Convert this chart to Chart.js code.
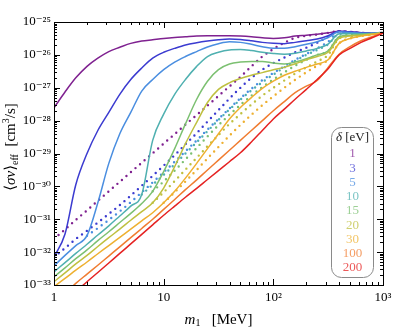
<html>
<head>
<meta charset="utf-8">
<script src="https://cdn.jsdelivr.net/npm/chart.js@4/dist/chart.umd.min.js"></script>
<style>
  body { margin: 0; background: #fff; }
</style>
</head>
<body>
<canvas id="sigmaChart" width="407" height="330"></canvas>

<script type="text/javascript">
    // m1 grid [MeV], 10 points per decade
    const masses = [1, 1.26, 1.58, 2, 2.51, 3.16, 3.98, 5.01, 6.31, 7.94,
                    10, 12.6, 15.8, 20, 25.1, 31.6, 39.8, 50.1, 63.1, 79.4,
                    100, 126, 158, 200, 251, 316, 398, 501, 631, 794, 1000];

    // <sigma v>_eff [cm^3/s], solid curves
    const solid1 = [2.45e-28, 7.41e-28, 2.0e-27, 4.47e-27, 7.94e-27, 1.26e-26, 1.70e-26, 2.24e-26, 2.63e-26, 2.88e-26,
                    3.16e-26, 3.39e-26, 3.55e-26, 3.72e-26, 3.8e-26, 3.8e-26, 3.8e-26, 3.72e-26, 3.55e-26, 3.31e-26,
                    3.16e-26, 3.31e-26, 3.72e-26, 3.98e-26, 4.27e-26, 4.68e-26, 5.25e-26, 5.01e-26, 4.68e-26, 4.57e-26, 4.68e-26];
    const solid3 = [7.08e-33, 3.55e-32, 1.12e-30, 1.0e-29, 5.01e-29, 1.78e-28, 6.31e-28, 1.78e-27, 3.98e-27, 7.94e-27,
                    1.2e-26, 1.58e-26, 2.0e-26, 2.34e-26, 2.63e-26, 2.88e-26, 3.02e-26, 2.95e-26, 2.69e-26, 2.4e-26,
                    2.24e-26, 2.19e-26, 2.4e-26, 2.69e-26, 3.02e-26, 3.8e-26, 5.25e-26, 5.01e-26, 4.68e-26, 4.57e-26, 4.68e-26];
    const solid5 = [3.8e-33, 7.94e-33, 1.58e-32, 3.16e-32, 3.16e-31, 5.01e-30, 3.98e-29, 1.78e-28, 7.94e-28, 1.78e-27,
                    3.55e-27, 6.03e-27, 8.91e-27, 1.26e-26, 1.74e-26, 2.19e-26, 2.51e-26, 2.4e-26, 2.09e-26, 1.78e-26,
                    1.58e-26, 1.58e-26, 1.78e-26, 2.09e-26, 2.51e-26, 3.39e-26, 5.01e-26, 4.79e-26, 4.57e-26, 4.57e-26, 4.68e-26];
    const solid10 = [2.51e-33, 4.79e-33, 9.12e-33, 1.74e-32, 3.31e-32, 6.31e-32, 1.26e-31, 2.51e-31, 5.62e-31, 2.51e-29,
                     1.58e-28, 6.31e-28, 1.78e-27, 4.47e-27, 8.91e-27, 1.2e-26, 1.41e-26, 1.45e-26, 1.35e-26, 1.2e-26,
                     1.1e-26, 1.05e-26, 1.12e-26, 1.32e-26, 1.58e-26, 2.14e-26, 4.37e-26, 4.47e-26, 4.37e-26, 4.47e-26, 4.68e-26];
    const solid15 = [1.78e-33, 3.31e-33, 6.31e-33, 1.17e-32, 2.24e-32, 4.17e-32, 7.94e-32, 1.51e-31, 3.02e-31, 7.08e-31,
                     2.82e-30, 1.41e-29, 7.94e-29, 4.47e-28, 1.58e-27, 3.55e-27, 5.25e-27, 6.03e-27, 6.31e-27, 6.31e-27,
                     5.62e-27, 5.25e-27, 6.03e-27, 7.59e-27, 1.0e-26, 1.32e-26, 3.55e-26, 3.98e-26, 4.17e-26, 4.37e-26, 4.68e-26];
    const solid20 = [1.26e-33, 2.34e-33, 4.37e-33, 7.94e-33, 1.48e-32, 2.75e-32, 5.01e-32, 9.33e-32, 1.7e-31, 3.16e-31,
                     8.91e-31, 3.98e-30, 2.0e-29, 8.91e-29, 3.55e-28, 8.91e-28, 1.41e-27, 1.91e-27, 2.4e-27, 2.88e-27,
                     3.55e-27, 4.17e-27, 5.37e-27, 7.08e-27, 8.91e-27, 1.2e-26, 3.16e-26, 3.72e-26, 3.98e-26, 4.27e-26, 4.68e-26];
    const solid30 = [8.91e-34, 1.58e-33, 2.82e-33, 5.01e-33, 8.91e-33, 1.58e-32, 2.82e-32, 5.01e-32, 8.91e-32, 1.58e-31,
                     3.16e-31, 7.08e-31, 1.78e-30, 5.01e-30, 1.41e-29, 3.98e-29, 1.12e-28, 2.51e-28, 5.01e-28, 9.55e-28,
                     1.58e-27, 2.4e-27, 3.16e-27, 4.17e-27, 5.25e-27, 7.08e-27, 2.24e-26, 3.16e-26, 3.72e-26, 4.17e-26, 4.68e-26];
    const solid100 = [2.82e-34, 5.62e-34, 1.12e-33, 2.14e-33, 3.98e-33, 7.59e-33, 1.45e-32, 2.75e-32, 5.25e-32, 1.0e-31,
                      2.0e-31, 3.98e-31, 7.94e-31, 1.58e-30, 3.16e-30, 6.31e-30, 1.26e-29, 2.51e-29, 5.01e-29, 1.0e-28,
                      2.0e-28, 3.8e-28, 7.08e-28, 1.12e-27, 1.66e-27, 4.17e-27, 1.05e-26, 1.78e-26, 2.69e-26, 3.55e-26, 4.68e-26];
    const solid200 = [1.58e-34, 3.16e-34, 6.31e-34, 1.26e-33, 2.4e-33, 4.68e-33, 9.12e-33, 1.78e-32, 3.47e-32, 6.76e-32,
                      1.32e-31, 2.51e-31, 4.68e-31, 8.71e-31, 1.62e-30, 3.02e-30, 5.62e-30, 1.05e-29, 2.24e-29, 5.01e-29,
                      1.12e-28, 2.24e-28, 4.47e-28, 8.91e-28, 1.78e-27, 3.8e-27, 1.0e-26, 1.58e-26, 2.4e-26, 3.31e-26, 4.57e-26];

    // dotted curves (null where they sit under the solid one)
    const dotted1 = [2.51e-32, 4.9e-32, 9.55e-32, 1.86e-31, 3.63e-31, 7.08e-31, 1.38e-30, 2.69e-30, 5.25e-30, 1.02e-29,
                     2.0e-29, 3.89e-29, 7.59e-29, 1.48e-28, 2.88e-28, 5.62e-28, 1.1e-27, 2.14e-27, 4.47e-27, 8.91e-27,
                     1.51e-26, 2.34e-26, 3.31e-26, 3.8e-26, 4.17e-26, 4.68e-26, 5.25e-26, 5.01e-26, 4.68e-26, 4.57e-26, 4.68e-26];
    const dotted3 = [7.08e-33, 1.32e-32, 2.51e-32, 4.47e-32, 7.94e-32, 1.45e-31, 2.69e-31, 5.25e-31, 1.05e-30, 2.09e-30,
                     4.27e-30, 8.91e-30, 1.91e-29, 4.17e-29, 9.33e-29, 2.09e-28, 4.68e-28, 1.0e-27, 2.0e-27, 3.55e-27,
                     5.62e-27, 8.32e-27, 1.2e-26, 1.66e-26, 2.34e-26, 3.55e-26, 5.25e-26, 5.01e-26, 4.68e-26, 4.57e-26, 4.68e-26];
    const dotted5 = [null, null, null, 3.16e-32, 5.37e-32, 9.55e-32, 1.74e-31, 3.31e-31, 6.61e-31, 1.32e-30,
                     2.69e-30, 5.62e-30, 1.17e-29, 2.51e-29, 5.37e-29, 1.12e-28, 2.34e-28, 4.79e-28, 9.33e-28, 1.7e-27,
                     2.82e-27, 4.47e-27, 7.08e-27, 1.07e-26, 1.58e-26, 2.51e-26, 5.01e-26, 4.79e-26, 4.57e-26, 4.57e-26, 4.68e-26];
    const dotted10 = [null, null, null, null, null, null, null, null, 5.62e-31, 1.12e-30,
                      2.24e-30, 4.68e-30, 1.0e-29, 2.19e-29, 4.79e-29, 1.05e-28, 2.19e-28, 4.37e-28, 8.32e-28, 1.48e-27,
                      2.51e-27, 4.17e-27, 6.61e-27, 1.0e-26, 1.41e-26, 2.09e-26, 4.37e-26, 4.47e-26, 4.37e-26, 4.47e-26, 4.68e-26];
    const dotted15 = [null, null, null, null, null, null, null, null, null, 7.08e-31,
                      1.41e-30, 3.02e-30, 6.61e-30, 1.48e-29, 3.31e-29, 7.24e-29, 1.51e-28, 3.02e-28, 5.75e-28, 1.05e-27,
                      1.78e-27, 2.95e-27, 4.68e-27, 7.08e-27, 1.0e-26, 1.32e-26, 3.55e-26, 3.98e-26, 4.17e-26, 4.37e-26, 4.68e-26];
    const dotted20 = [null, null, null, null, null, null, null, null, null, 3.16e-31,
                      6.61e-31, 1.45e-30, 3.24e-30, 7.41e-30, 1.66e-29, 3.63e-29, 7.94e-29, 1.58e-28, 3.09e-28, 5.75e-28,
                      1.0e-27, 1.66e-27, 2.69e-27, 4.17e-27, 6.31e-27, 1.0e-26, 3.16e-26, 3.72e-26, 3.98e-26, 4.27e-26, 4.68e-26];
    const dotted30 = [null, null, null, null, null, null, null, null, null, null,
                      3.16e-31, 6.61e-31, 1.41e-30, 3.16e-30, 7.08e-30, 1.58e-29, 3.47e-29, 7.41e-29, 1.51e-28, 2.95e-28,
                      5.5e-28, 1.0e-27, 1.74e-27, 2.95e-27, 4.68e-27, 7.08e-27, 2.24e-26, 3.16e-26, 3.72e-26, 4.17e-26, 4.68e-26];

    const deltas = ['1', '3', '5', '10', '15', '20', '30', '100', '200'];
    const colors = ['#7f2190', '#3b3bd0', '#4a8ee0', '#4fb0b0', '#7cc071', '#bfc040', '#eeb030', '#f07c30', '#e52222'];
    const solids = [solid1, solid3, solid5, solid10, solid15, solid20, solid30, solid100, solid200];
    const dotteds = [dotted1, dotted3, dotted5, dotted10, dotted15, dotted20, dotted30, null, null];

    const xTicks = [1, 10, 100, 1000];
    const xTickLabels = ['1', '10', '10²', '10³'];
    const yTicks = [1e-33, 1e-32, 1e-31, 1e-30, 1e-29, 1e-28, 1e-27, 1e-26, 1e-25];
    const yTickLabels = ['10⁻³³', '10⁻³²', '10⁻³¹', '10⁻³⁰', '10⁻²⁹', '10⁻²⁸', '10⁻²⁷', '10⁻²⁶', '10⁻²⁵'];

    const SERIF = '"Liberation Serif", "DejaVu Serif", serif';

    function toXY(vals) {
        return masses.map((m, i) => ({ x: m, y: vals[i] }));
    }

    const datasets = [];
    for (let i = solids.length - 1; i >= 0; i--) {
        datasets.push({
            label: 'δ = ' + deltas[i],
            data: toXY(solids[i]),
            borderColor: colors[i],
            borderWidth: 1.5,
            pointRadius: 0,
            cubicInterpolationMode: 'monotone'
        });
    }
    for (let i = dotteds.length - 1; i >= 0; i--) {
        if (!dotteds[i]) continue;
        datasets.push({
            label: 'δ = ' + deltas[i] + ' (dotted)',
            data: toXY(dotteds[i]),
            borderColor: colors[i],
            borderWidth: 2.4,
            borderDash: [0, 6],
            borderCapStyle: 'round',
            pointRadius: 0,
            cubicInterpolationMode: 'monotone'
        });
    }

    // draws text pieces one after another (sub/superscripts)
    function drawRuns(ctx, runs, cx, cy) {
        let total = 0;
        runs.forEach(r => { ctx.font = r.f; r.w = ctx.measureText(r.t).width; total += r.w; });
        let x = cx - total / 2;
        ctx.textBaseline = 'middle';
        ctx.textAlign = 'left';
        runs.forEach(r => {
            ctx.font = r.f;
            ctx.fillText(r.t, x, cy + (r.dy || 0));
            x += r.w;
        });
    }

    const decorPlugin = {
        id: 'decor',
        afterDraw(chart) {
            const ctx = chart.ctx;
            const area = chart.chartArea;
            const xs = chart.scales.x, ys = chart.scales.y;
            ctx.save();
            ctx.strokeStyle = '#000';
            ctx.lineWidth = 1;

            // inward ticks on all four sides
            ctx.beginPath();
            for (let d = 0; d < 3; d++) {
                for (let k = 1; k <= 9; k++) {
                    const v = k * Math.pow(10, d);
                    const px = Math.round(xs.getPixelForValue(v)) + 0.5;
                    const len = k === 1 ? 6 : 3;
                    ctx.moveTo(px, area.bottom); ctx.lineTo(px, area.bottom - len);
                    ctx.moveTo(px, area.top); ctx.lineTo(px, area.top + len);
                }
            }
            for (let d = -33; d < -25; d++) {
                for (let k = 1; k <= 9; k++) {
                    const v = k * Math.pow(10, d);
                    const py = Math.round(ys.getPixelForValue(v)) + 0.5;
                    const len = k === 1 ? 6 : 3;
                    ctx.moveTo(area.left, py); ctx.lineTo(area.left + len, py);
                    ctx.moveTo(area.right, py); ctx.lineTo(area.right - len, py);
                }
            }
            ctx.stroke();
            ctx.strokeRect(Math.round(area.left) + 0.5, Math.round(area.top) + 0.5,
                           Math.round(area.right - area.left), Math.round(area.bottom - area.top));

            // axis titles
            ctx.fillStyle = '#000';
            drawRuns(ctx, [
                { t: 'm', f: 'italic 15px ' + SERIF },
                { t: '1', f: '10px ' + SERIF, dy: 3 },
                { t: '   [MeV]', f: '15px ' + SERIF }
            ], (area.left + area.right) / 2, 320);

            ctx.save();
            ctx.translate(11, 147);
            ctx.rotate(-Math.PI / 2);
            drawRuns(ctx, [
                { t: '⟨', f: '15px ' + SERIF },
                { t: 'σv', f: 'italic 15px ' + SERIF },
                { t: '⟩', f: '15px ' + SERIF },
                { t: 'eff', f: '10px ' + SERIF, dy: 4 },
                { t: '  [cm', f: '15px ' + SERIF },
                { t: '3', f: '10px ' + SERIF, dy: -5 },
                { t: '/s]', f: '15px ' + SERIF }
            ], 0, 0);
            ctx.restore();

            // legend box
            const bx = 331, by = 127, bw = 42, bh = 150, r = 10;
            ctx.beginPath();
            ctx.roundRect(bx + 0.5, by + 0.5, bw, bh, r);
            ctx.fillStyle = '#fff';
            ctx.fill();
            ctx.strokeStyle = '#8a8a8a';
            ctx.stroke();
            ctx.fillStyle = '#222';
            drawRuns(ctx, [
                { t: 'δ', f: 'italic 13px ' + SERIF },
                { t: ' [eV]', f: '13px ' + SERIF }
            ], bx + bw / 2 + 0.5, by + 11);
            ctx.globalAlpha = 0.75;
            ctx.textAlign = 'center';
            ctx.font = '13px ' + SERIF;
            deltas.forEach((d, i) => {
                ctx.fillStyle = colors[i];
                ctx.fillText(d, bx + bw / 2 + 0.5, 154 + i * 14.25);
            });
            ctx.restore();
        }
    };

    const chartEl = document.getElementById('sigmaChart');
    const sigmaChart = new Chart(chartEl, {
        type: 'line',
        data: { datasets: datasets },
        options: {
            responsive: false,
            animation: false,
            layout: { padding: { top: 22, right: 24, left: 0, bottom: 0 } },
            plugins: {
                legend: { display: false },
                tooltip: { enabled: false }
            },
            scales: {
                x: {
                    type: 'logarithmic',
                    min: 1,
                    max: 1000,
                    grid: { display: false, drawTicks: false },
                    border: { display: false },
                    afterBuildTicks: s => { s.ticks = xTicks.map(v => ({ value: v })); },
                    afterFit: s => { s.height = 45; },
                    ticks: {
                        autoSkip: false,
                        maxRotation: 0,
                        padding: 5,
                        color: '#000',
                        font: { family: SERIF, size: 13 },
                        callback: (v, i) => xTickLabels[i]
                    }
                },
                y: {
                    type: 'logarithmic',
                    min: 1e-33,
                    max: 1e-25,
                    grid: { display: false, drawTicks: false },
                    border: { display: false },
                    afterBuildTicks: s => { s.ticks = yTicks.map(v => ({ value: v })); },
                    afterFit: s => { s.width = 54; },
                    ticks: {
                        autoSkip: false,
                        padding: 3,
                        color: '#000',
                        font: { family: SERIF, size: 13 },
                        callback: (v, i) => yTickLabels[i]
                    }
                }
            }
        },
        plugins: [decorPlugin]
    });
</script>
</body>
</html>
